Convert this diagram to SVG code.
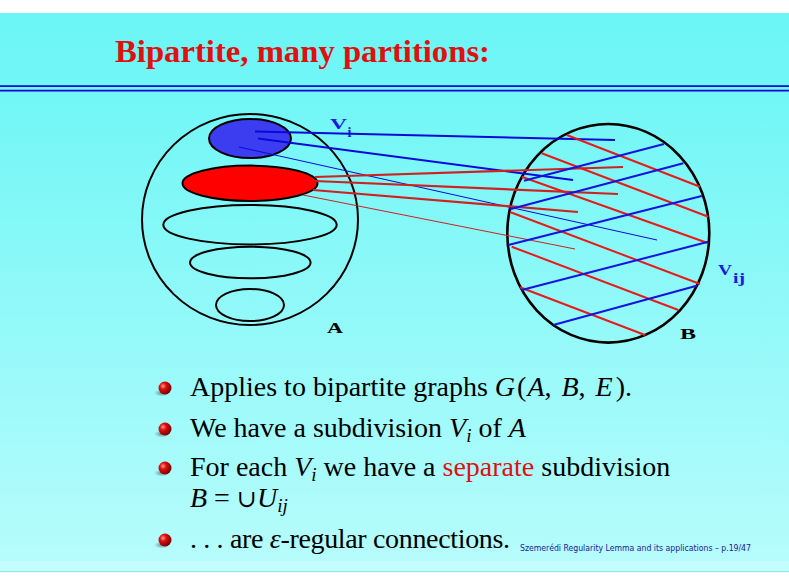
<svg xmlns="http://www.w3.org/2000/svg" width="789" height="585" viewBox="0 0 789 585">
<defs>
<linearGradient id="bg" x1="0" y1="0" x2="0" y2="1">
<stop offset="0" stop-color="#6cf6f6"/>
<stop offset="0.15" stop-color="#72f6f6"/>
<stop offset="1" stop-color="#b8fcfc"/>
</linearGradient>
<radialGradient id="ball" cx="0.35" cy="0.35" r="0.7">
<stop offset="0" stop-color="#ff9a8a"/>
<stop offset="0.35" stop-color="#e01010"/>
<stop offset="1" stop-color="#700000"/>
</radialGradient>
<radialGradient id="shadow" cx="0.5" cy="0.5" r="0.5">
<stop offset="0" stop-color="#607070" stop-opacity="0.8"/>
<stop offset="1" stop-color="#607070" stop-opacity="0"/>
</radialGradient>
<g id="bullet">
<ellipse cx="-3" cy="5" rx="8" ry="3.5" fill="url(#shadow)"/>
<circle cx="0" cy="0" r="6.5" fill="url(#ball)"/>
</g>
</defs>
<style>
.set{fill:none;stroke:#000;stroke-width:2}
.lbl{font-family:"Liberation Serif",serif;font-weight:bold;font-size:14px}
.body{font-family:"Liberation Serif",serif;font-size:28px;fill:#000}
.it{font-style:italic}
.hr{stroke:#e81a1a;stroke-width:2}
.hb{stroke:#1414e0;stroke-width:2}
</style>
<rect x="0" y="0" width="789" height="585" fill="#ffffff"/>
<rect x="0" y="13" width="789" height="559" fill="url(#bg)"/>
<rect x="0" y="561" width="789" height="10" fill="#c4fefe"/>
<rect x="0" y="571" width="789" height="1.2" fill="#8cecec"/>
<g id="header">
<text x="115" y="62" font-family="Liberation Serif,serif" font-weight="bold" font-size="32" fill="#e01010" textLength="375" lengthAdjust="spacingAndGlyphs">Bipartite, many partitions:</text>
<line x1="0" y1="86.2" x2="789" y2="86.2" stroke="#0a0ad0" stroke-width="1.8"/>
<line x1="0" y1="90.6" x2="789" y2="90.6" stroke="#0a0ad0" stroke-width="1.8"/>
</g>
<g id="setA">
<ellipse class="set" cx="250" cy="219.5" rx="108" ry="105.5"/>
<ellipse cx="250" cy="138.5" rx="41" ry="19.5" fill="#3c3cf0" stroke="#000" stroke-width="2"/>
<ellipse cx="250" cy="183.3" rx="67.5" ry="17.7" fill="#ff0000" stroke="#000" stroke-width="2"/>
<ellipse class="set" cx="250" cy="224.7" rx="86.7" ry="19.7"/>
<ellipse class="set" cx="250.3" cy="262.5" rx="60.3" ry="15.8"/>
<ellipse class="set" cx="250" cy="305" rx="34" ry="16"/>
<text class="lbl" x="327" y="332.5" textLength="16" lengthAdjust="spacingAndGlyphs">A</text>
</g>
<g id="setB">
<ellipse cx="608.3" cy="233.3" rx="101" ry="109.3" fill="none" stroke="#000" stroke-width="2.6"/>
<text class="lbl" x="680" y="338.5" textLength="16" lengthAdjust="spacingAndGlyphs">B</text>
</g>
<g id="labelVi">
<text class="lbl" x="330" y="129" font-size="15" fill="#1a1ae0" textLength="17" lengthAdjust="spacingAndGlyphs">V</text>
<text class="lbl" x="347.5" y="137" font-size="12" fill="#1a1ae0">i</text>
</g>
<g id="labelVij">
<text class="lbl" x="718" y="275" font-size="13" fill="#1a1ae0" textLength="14" lengthAdjust="spacingAndGlyphs">V</text>
<text class="lbl" x="733" y="282.5" font-size="12" fill="#1a1ae0" textLength="12" lengthAdjust="spacingAndGlyphs">ij</text>
</g>
<g id="connectors">
<line x1="255" y1="131.5" x2="615" y2="140" stroke="#0a0ad8" stroke-width="2"/>
<line x1="258" y1="138.5" x2="573" y2="180" stroke="#0a0ad8" stroke-width="2"/>
<line x1="239" y1="147" x2="657" y2="240" stroke="#0a0ad8" stroke-width="1"/>
<line x1="315" y1="177" x2="623" y2="167" stroke="#d02020" stroke-width="2.2"/>
<line x1="315" y1="181" x2="618" y2="194" stroke="#d02020" stroke-width="2.2"/>
<line x1="313" y1="190" x2="578" y2="212" stroke="#d02020" stroke-width="2.2"/>
<line x1="303" y1="195" x2="575" y2="249" stroke="#d02020" stroke-width="1"/>
<line class="hr" x1="566.7" y1="135" x2="700" y2="186.7"/>
<line class="hr" x1="541.7" y1="153.3" x2="708.3" y2="216.7"/>
<line class="hr" x1="521.7" y1="176.7" x2="708.3" y2="243.3"/>
<line class="hr" x1="510" y1="212" x2="700" y2="284"/>
<line class="hr" x1="511.7" y1="246.7" x2="678.3" y2="310"/>
<line class="hr" x1="520" y1="287.3" x2="645" y2="335"/>
<line class="hb" x1="524" y1="180.7" x2="664" y2="144"/>
<line class="hb" x1="510" y1="209.3" x2="683.3" y2="163.3"/>
<line class="hb" x1="508.3" y1="245" x2="701.7" y2="196"/>
<line class="hb" x1="521.7" y1="290" x2="708.3" y2="241.7"/>
<line class="hb" x1="553.3" y1="325" x2="696.7" y2="285.7"/>
</g>
<g id="bullets">
<use href="#bullet" x="165" y="388"/>
<use href="#bullet" x="165" y="429"/>
<use href="#bullet" x="165" y="468"/>
<use href="#bullet" x="165" y="540"/>
<text class="body" x="190" y="396">Applies to bipartite graphs <tspan class="it">G</tspan><tspan dx="2">(</tspan><tspan class="it" dx="1">A</tspan>, <tspan class="it" dx="3">B</tspan>, <tspan class="it" dx="3">E</tspan><tspan dx="3">).</tspan></text>
<text class="body" x="190" y="437">We have a subdivision <tspan class="it">V</tspan><tspan class="it" font-size="19" dy="5">i</tspan><tspan dy="-5"> of </tspan><tspan class="it">A</tspan></text>
<text class="body" x="190" y="476">For each <tspan class="it">V</tspan><tspan class="it" font-size="19" dy="5">i</tspan><tspan dy="-5"> we have a </tspan><tspan fill="#e01010">separate</tspan> subdivision</text>
<text class="body" x="190" y="507"><tspan class="it">B</tspan> = <tspan font-family="DejaVu Serif,serif" font-size="24">∪</tspan><tspan class="it">U</tspan><tspan class="it" font-size="19" dy="5">ij</tspan></text>
<text class="body" x="190" y="548" textLength="320" lengthAdjust="spacing">. . . are <tspan class="it">ε</tspan>-regular connections.</text>
</g>
<g id="footer">
<text x="520" y="551" font-family="DejaVu Sans,sans-serif" font-size="8" fill="#1a1aa0" textLength="231" lengthAdjust="spacingAndGlyphs">Szemerédi Regularity Lemma and its applications – p.19/47</text>
</g>
</svg>
